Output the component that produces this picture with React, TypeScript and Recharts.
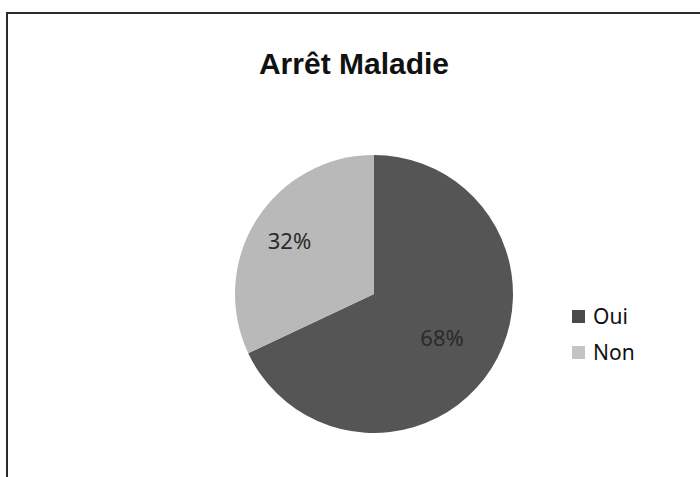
import React from 'react';
import { PieChart, Pie, Cell, Legend } from 'recharts';

const categories = ['Oui', 'Non'];
const shares = [68, 32];
const sliceColors = ['#555555', '#b9b9b9'];
const legendColors = ['#4a4a4a', '#c4c4c4'];

const data = categories.map((name, i) => ({ name, value: shares[i] }));

const RADIAN = Math.PI / 180;

const renderLabel = (props: any) => {
  const { cx, cy, midAngle, outerRadius, index, percent } = props;
  // Excel placed the two labels at slightly different depths
  const r = outerRadius * (index === 0 ? 0.58 : 0.72);
  const x = cx + r * Math.cos(-midAngle * RADIAN);
  const y = cy + r * Math.sin(-midAngle * RADIAN);
  return (
    <text
      x={x}
      y={y}
      fill="#2a2a2a"
      textAnchor="middle"
      dominantBaseline="central"
      fontSize={22}
      fontFamily="'Noto Sans', sans-serif"
    >
      {`${Math.round(percent * 100)}%`}
    </text>
  );
};

const renderLegend = () => (
  <div style={{ fontFamily: "'Noto Sans', sans-serif", fontSize: 21, color: '#111' }}>
    {categories.map((name, i) => (
      <div key={name} style={{ display: 'flex', alignItems: 'center', height: 36 }}>
        <span
          style={{
            display: 'inline-block',
            width: 13,
            height: 13,
            background: legendColors[i],
            marginRight: 8,
          }}
        />
        <span>{name}</span>
      </div>
    ))}
  </div>
);

export default function App() {
  return (
    <div
      style={{
        position: 'absolute',
        left: 0,
        top: 0,
        width: 700,
        height: 477,
        overflow: 'hidden',
        background: '#fff',
      }}
    >
      <div
        style={{
          position: 'absolute',
          left: 6,
          top: 12,
          width: 700,
          height: 470,
          borderLeft: '2px solid #2a2a2a',
          borderTop: '2px solid #2a2a2a',
        }}
      />
      <div
        style={{
          position: 'absolute',
          left: 0,
          top: 47,
          width: 708,
          textAlign: 'center',
          fontFamily: "'Liberation Sans', Arial, sans-serif",
          fontWeight: 'bold',
          fontSize: 30,
          color: '#111',
        }}
      >
        Arrêt Maladie
      </div>
      <PieChart
        width={700}
        height={477}
        margin={{ top: 0, right: 0, bottom: 0, left: 0 }}
        style={{ position: 'absolute', left: 0, top: 0 }}
      >
        <Pie
          data={data}
          dataKey="value"
          nameKey="name"
          cx={374}
          cy={294}
          outerRadius={139}
          startAngle={90}
          endAngle={-270}
          stroke="none"
          label={renderLabel}
          labelLine={false}
          isAnimationActive={false}
        >
          {data.map((d, i) => (
            <Cell key={d.name} fill={sliceColors[i]} />
          ))}
        </Pie>
        <Legend
          layout="vertical"
          align="right"
          verticalAlign="top"
          content={renderLegend}
          wrapperStyle={{ left: 572, top: 298, width: 120 }}
        />
      </PieChart>
    </div>
  );
}
